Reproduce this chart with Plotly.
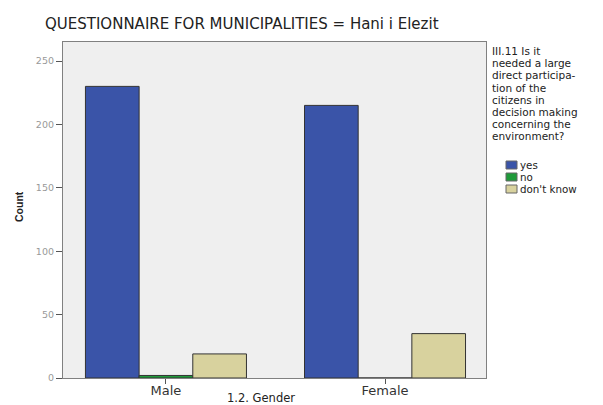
import plotly.graph_objects as go

# data
genders = ["Male", "Female"]
yes_counts = [230, 215]
no_counts = [2, 0]
dont_know_counts = [19, 35]

series_names = ["yes", "no", "don't know"]
series_colors = ["#3a54a8", "#1f9a3a", "#d8d29e"]
series_values = [yes_counts, no_counts, dont_know_counts]

chart_title = "QUESTIONNAIRE FOR MUNICIPALITIES = Hani i Elezit"
question_lines = ["III.11 Is it", "needed a large", "direct participa-", "tion of the",
                  "citizens in", "decision making", "concerning the", "environment?"]

W, H = 603, 405
OFF = 8  # page body margin
# plot box in screen pixels
X0, X1, Y0, Y1 = 63, 486, 42, 378
L, R, T, B = X0 - OFF, W - (X1 - OFF), Y0 - OFF, H - (Y1 - OFF)
FONT = "DejaVu Sans, Verdana, sans-serif"


def py(p):
    # screen row -> paper y
    return (Y1 - p) / (Y1 - Y0)


def px(p):
    # screen column -> paper x
    return (p - X0) / (X1 - X0)


fig = go.Figure()
for name, values, color in zip(series_names, series_values, series_colors):
    fig.add_trace(go.Bar(
        name=name,
        x=genders,
        y=values,
        marker=dict(color=color, line=dict(color="#333333", width=1)),
        showlegend=False,
    ))

# title
fig.add_annotation(
    text=chart_title, xref="paper", yref="paper", x=px(43), y=py(24),
    xanchor="left", yanchor="middle", showarrow=False,
    font=dict(family=FONT, size=15, color="#222222"),
)

# question text (legend title)
for i, line in enumerate(question_lines):
    fig.add_annotation(
        text=line, xref="paper", yref="paper",
        x=px(490), y=py(51 + 12.2 * i),
        xanchor="left", yanchor="middle", showarrow=False, align="left",
        font=dict(family=FONT, size=10.5, color="#222222"),
    )

# legend items
for i, (name, color) in enumerate(zip(series_names, series_colors)):
    cy = 165 + 12 * i
    fig.add_shape(
        type="rect", xref="paper", yref="paper",
        x0=px(506), x1=px(517), y0=py(cy + 4), y1=py(cy - 4),
        fillcolor=color, line=dict(color="#666666", width=1),
    )
    fig.add_annotation(
        text=name, xref="paper", yref="paper",
        x=px(518), y=py(cy),
        xanchor="left", yanchor="middle", showarrow=False, align="left",
        font=dict(family=FONT, size=10.3, color="#222222"),
    )

# axis titles
fig.add_annotation(
    text="<b>Count</b>", xref="paper", yref="paper", x=px(19), y=py(207),
    xanchor="center", yanchor="middle", textangle=-90, showarrow=False,
    font=dict(family="Liberation Sans, Arial, sans-serif", size=10.5, color="#222222"),
)
fig.add_annotation(
    text="1.2. Gender", xref="paper", yref="paper", x=px(261), y=py(398),
    xanchor="center", yanchor="middle", showarrow=False,
    font=dict(family=FONT, size=11.5, color="#222222"),
)

fig.update_layout(
    width=W, height=H,
    margin=dict(l=L, r=R, t=T, b=B),
    paper_bgcolor="white",
    plot_bgcolor="#efefef",
    barmode="group",
    bargap=0.265,
    bargroupgap=0,
    showlegend=False,
    font=dict(family=FONT, color="#222222"),
)

fig.update_xaxes(
    range=[-0.47, 1.461], automargin=False,
    showline=True, linecolor="#808080", linewidth=1.2, mirror=True,
    ticks="outside", ticklen=5, tickcolor="#555555", ticklabelstandoff=-5,
    tickfont=dict(family=FONT, size=13, color="#333333"),
)
fig.update_yaxes(
    range=[0, 265], dtick=50, automargin=False,
    showgrid=False, zeroline=False,
    showline=True, linecolor="#808080", linewidth=1.2, mirror=True,
    ticks="outside", ticklen=6, tickcolor="#555555",
    tickfont=dict(family=FONT, size=9.5, color="#999999"),
)

fig.write_html("out.html")
